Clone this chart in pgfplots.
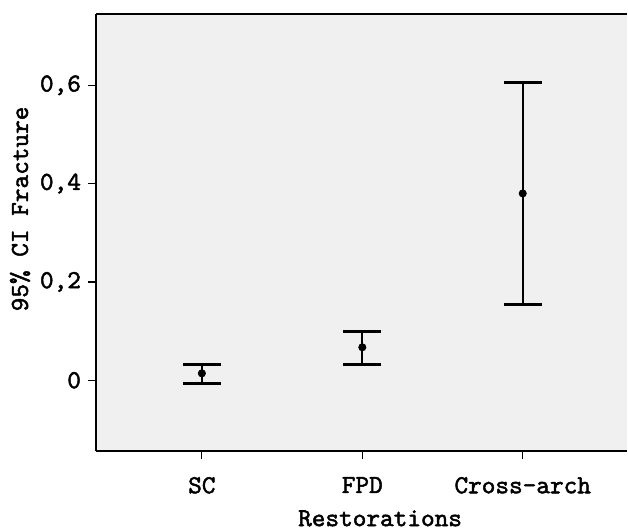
\documentclass[border=0pt]{standalone}
\usepackage{fontspec}
\newfontfamily\lblmono{lmmono10-regular.otf}[FakeBold=1.8]
\usepackage{pgfplots}
\usepackage{pgfplotstable}
\pgfplotsset{compat=1.18}

\definecolor{panel}{RGB}{240,240,240}
\newcommand{\lblfont}{\fontsize{13}{15}\selectfont\lblmono}

% x (category index), mean, upper error, lower error
\pgfplotstableread{
x   y      ep     em
1   0.014  0.019  0.020
2   0.067  0.033  0.034
3   0.380  0.226  0.225
}\fracture

\begin{document}
\begin{tikzpicture}
\begin{axis}[
    name=ax,
    width=265.5pt, height=218.5pt,
    scale only axis,
    xmin=0.34, xmax=3.65,
    ymin=-0.144, ymax=0.745,
    axis x line*=bottom,
    axis y line*=left,
    axis line style={line width=1pt, black},
    axis background/.style={fill=panel},
    tick align=outside,
    major tick length=4pt,
    tick style={line width=0.6pt, black},
    xtick={1,2,3},
    xticklabels={SC, FPD, Cross-arch},
    ytick={0,0.2,0.4,0.6},
    /pgf/number format/use comma,
    /pgf/number format/assume math mode=true,
    ticklabel style={font=\lblfont},
    xticklabel style={yshift=-5.5pt},
    xlabel={Restorations},
    ylabel={95\% CI Fracture},
    every axis x label/.style={at={(axis description cs:0.535,-0.154)}, anchor=center,
        font=\lblfont},
    every axis y label/.style={at={(axis description cs:-0.1431,0.554)}, anchor=center,
        rotate=90, font=\lblfont},
    clip=false,
]
\addplot[
    only marks, black,
    mark=*, mark size=1.8pt,
    error bars/.cd,
        y dir=both, y explicit,
        error mark=|,
        error bar style={line width=1pt, black},
        error mark options={mark size=9.5pt, line width=1.5pt, black},
] table[x=x, y=y, y error plus=ep, y error minus=em] {\fracture};
\draw[line width=1.2pt, black] (rel axis cs:0,1) -- (rel axis cs:1,1);
\end{axis}
\pgfresetboundingbox
\path (ax.south west) ++(-48pt,-39pt) coordinate (bl);
\path (ax.north east) ++(0.5pt,7pt) coordinate (tr);
\useasboundingbox (bl) rectangle (tr);
\end{tikzpicture}
\end{document}
